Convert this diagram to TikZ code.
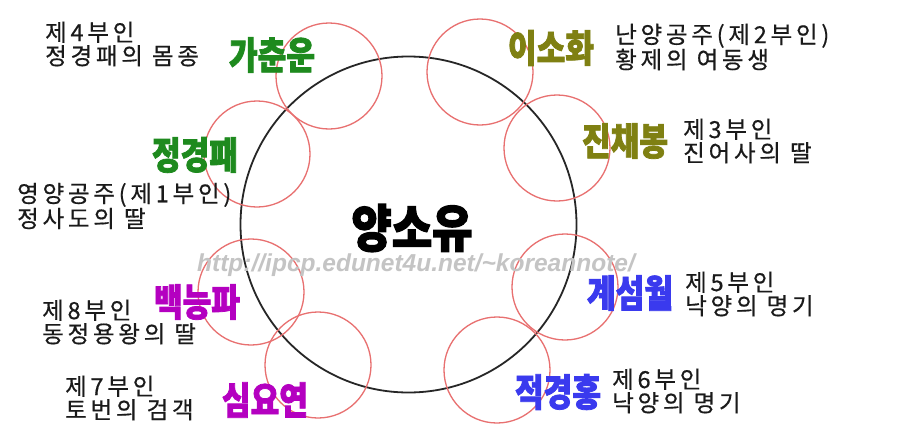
\documentclass[tikz,border=0pt]{standalone}
\usepackage{fontspec}
\newfontfamily\descfont[LetterSpace=16,FakeBold=0.5]{Noto Sans CJK KR}
\newfontfamily\namefont[FakeStretch=0.82,FakeBold=2]{Noto Sans CJK KR Black}
\newfontfamily\centerfont[FakeStretch=0.86,FakeBold=2.5]{Noto Sans CJK KR Black}
\newfontfamily\wmfont{Liberation Sans}
\definecolor{cgreen}{HTML}{1E8A1E}
\definecolor{colive}{HTML}{7F8012}
\definecolor{cblue}{HTML}{3A3AEE}
\definecolor{cmag}{HTML}{B400C0}
\definecolor{cred}{HTML}{E87070}
\definecolor{ctext}{HTML}{1A1A1A}
\definecolor{cwm}{HTML}{C4C4C4}
\begin{document}
\begin{tikzpicture}[x=1pt,y=-1pt,
  bigc/.style={circle,draw=black!85,line width=1.8pt,minimum size=336pt,inner sep=0pt},
  smallc/.style={circle,draw=cred,line width=1.3pt,minimum size=106pt,inner sep=0pt},
  desctext/.style={anchor=west,align=left,inner sep=0pt,text=ctext,font=\descfont\fontsize{23.5}{23.5}\selectfont},
  nametext/.style={inner sep=0pt,font=\namefont\fontsize{38}{38}\selectfont},
  centertext/.style={inner sep=0pt,font=\centerfont\fontsize{51}{51}\selectfont}]
\useasboundingbox (0,0) rectangle (899,439);
\fill[white] (0,0) rectangle (899,439);
% circles
\node[bigc] (big) at (408.5,224.5) {};
\node[smallc] (c1) at (329,76) {};
\node[smallc] (c2) at (480,72) {};
\node[smallc] (c3) at (557,148) {};
\node[smallc] (c4) at (565,287) {};
\node[smallc] (c5) at (497,370) {};
\node[smallc] (c6) at (318,365) {};
\node[smallc] (c7) at (251,292) {};
\node[smallc] (c8) at (257,154) {};
% watermark
\node[inner sep=0pt,text=cwm,font=\wmfont\bfseries\itshape\fontsize{24.5}{24.5}\selectfont] (wm) at (416,265) {http://ipcp.edunet4u.net/\textasciitilde koreannote/};
% center
\node[centertext] (yang) at (412,228) {양소유};
% names
\node[nametext,text=cgreen] (n1) at (272,55) {가춘운};
\node[nametext,text=colive] (n2) at (551,48) {이소화};
\node[nametext,text=colive] (n3) at (625,141) {진채봉};
\node[nametext,text=cblue] (n4) at (630,293) {계섬월};
\node[nametext,text=cblue] (n5) at (558,392) {적경홍};
\node[nametext,text=cmag] (n6) at (265,400) {심요연};
\node[nametext,text=cmag] (n7) at (197,302) {백능파};
\node[nametext,text=cgreen] (n8) at (195,155) {정경패};
% descriptions
\node[desctext] (d1) at (45,44) {제4부인\\정경패의 몸종};
\node[desctext] (d2) at (615,47) {난양공주(제2부인)\\황제의 여동생};
\node[desctext] (d3) at (683,141) {제3부인\\진어사의 딸};
\node[desctext] (d4) at (685,294) {제5부인\\낙양의 명기};
\node[desctext] (d5) at (612,391) {제6부인\\낙양의 명기};
\node[desctext] (d6) at (65,398) {제7부인\\토번의 검객};
\node[desctext] (d7) at (42,322) {제8부인\\동정용왕의 딸};
\node[desctext] (d8) at (17,206) {영양공주(제1부인)\\정사도의 딸};
\end{tikzpicture}
\end{document}
